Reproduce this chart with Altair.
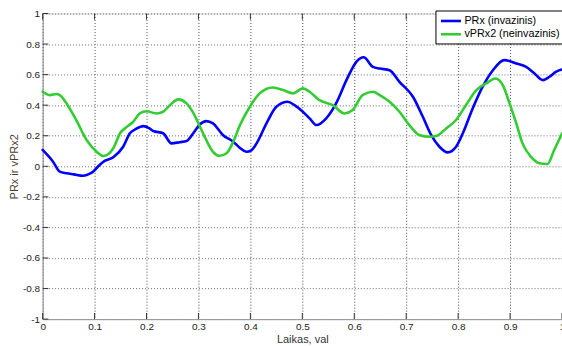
import altair as alt
import pandas as pd

# PRx (invasive) trace
prx_t = [0, 0.02, 0.033, 0.046, 0.06, 0.078, 0.09, 0.097, 0.107, 0.117, 0.136, 0.155,
         0.168, 0.18, 0.194, 0.205, 0.213, 0.232, 0.248, 0.264, 0.277, 0.29, 0.303,
         0.315, 0.328, 0.347, 0.367, 0.38, 0.392, 0.402, 0.412, 0.431, 0.45, 0.472,
         0.485, 0.501, 0.515, 0.527, 0.546, 0.565, 0.585, 0.604, 0.618, 0.636, 0.649,
         0.668, 0.687, 0.713, 0.732, 0.748, 0.764, 0.78, 0.796, 0.809, 0.828, 0.847,
         0.867, 0.889, 0.912, 0.931, 0.947, 0.963, 0.976, 0.988, 1.0]
prx_v = [0.107, 0.03, -0.035, -0.046, -0.053, -0.062, -0.05, -0.035, 0.0, 0.03, 0.059,
         0.128, 0.216, 0.245, 0.263, 0.25, 0.231, 0.216, 0.15, 0.158, 0.165, 0.216,
         0.275, 0.296, 0.281, 0.205, 0.161, 0.12, 0.095, 0.105, 0.15, 0.281, 0.39,
         0.422, 0.4, 0.357, 0.31, 0.27, 0.314, 0.412, 0.564, 0.684, 0.714, 0.651, 0.64,
         0.629, 0.553, 0.455, 0.324, 0.205, 0.128, 0.091, 0.128, 0.216, 0.379, 0.52,
         0.629, 0.695, 0.673, 0.651, 0.608, 0.564, 0.586, 0.618, 0.634]

# vPRx2 (non-invasive) trace
vprx2_t = [0, 0.014, 0.027, 0.033, 0.05, 0.065, 0.085, 0.104, 0.117, 0.136, 0.149, 0.162,
           0.174, 0.187, 0.2, 0.219, 0.232, 0.245, 0.261, 0.277, 0.29, 0.303, 0.315,
           0.328, 0.341, 0.354, 0.367, 0.38, 0.399, 0.418, 0.443, 0.463, 0.482, 0.501,
           0.514, 0.533, 0.559, 0.581, 0.597, 0.616, 0.636, 0.649, 0.668, 0.687, 0.706,
           0.725, 0.745, 0.758, 0.777, 0.796, 0.815, 0.835, 0.854, 0.872, 0.886, 0.899,
           0.912, 0.924, 0.94, 0.956, 0.972, 0.985, 1.0]
vprx2_v = [0.488, 0.466, 0.473, 0.466, 0.39, 0.30, 0.17, 0.095, 0.067, 0.118, 0.216,
           0.258, 0.29, 0.346, 0.36, 0.346, 0.357, 0.40, 0.438, 0.412, 0.35, 0.259,
           0.172, 0.095, 0.069, 0.085, 0.161, 0.27, 0.39, 0.477, 0.516, 0.499, 0.477,
           0.51, 0.488, 0.433, 0.40, 0.346, 0.368, 0.466, 0.488, 0.466, 0.422, 0.357,
           0.27, 0.205, 0.193, 0.198, 0.248, 0.303, 0.40, 0.499, 0.542, 0.575, 0.531,
           0.412, 0.281, 0.15, 0.063, 0.02, 0.015, 0.107, 0.215]

series_names = ["PRx (invazinis)", "vPRx2 (neinvazinis)"]
series_colors = ["#0000ff", "#33cc33"]

x_ticks = [0, 0.1, 0.2, 0.3, 0.4, 0.5, 0.6, 0.7, 0.8, 0.9, 1]
y_ticks = [-1, -0.8, -0.6, -0.4, -0.2, 0, 0.2, 0.4, 0.6, 0.8, 1]

FONT = "Liberation Sans"

df = pd.concat([
    pd.DataFrame({"t": prx_t, "v": prx_v, "series": series_names[0]}),
    pd.DataFrame({"t": vprx2_t, "v": vprx2_v, "series": series_names[1]}),
], ignore_index=True)

x_scale = alt.Scale(domain=[0, 1], nice=False, zero=False)
y_scale = alt.Scale(domain=[-1, 1], nice=False, zero=False)

x_axis = alt.Axis(
    values=x_ticks, title="Laikas, val", labelExpr="'' + datum.value",
    grid=True, gridColor="#4a4a4a", gridDash=[1, 2], gridWidth=1,
    ticks=False, domainColor="#999999", labelColor="#222222",
    labelFont=FONT, labelFontSize=10, labelBaseline="alphabetic", labelPadding=10.7,
    labelFlush=False, labelOverlap=False,
    titleFont=FONT, titleFontSize=11, titleFontWeight="normal", titleColor="#333333",
    titleBaseline="alphabetic", titleY=23.2, titleX=260,
)
y_axis = alt.Axis(
    values=y_ticks, title="PRx ir vPRx2", labelExpr="'' + datum.value",
    grid=True, gridColor="#6a6a6a", gridDash=[1, 2], gridWidth=1,
    ticks=False, domainColor="#999999", labelColor="#222222",
    labelFont=FONT, labelFontSize=10, labelPadding=3, labelFlush=False,
    labelOverlap=False,
    titleFont=FONT, titleFontSize=11, titleFontWeight="normal", titleColor="#4a3a30",
    titleAngle=-90, titleAlign="center", titleBaseline="alphabetic",
    titleX=-25, titleY=153,
)

lines = alt.Chart(df).mark_line(
    strokeWidth=2.6, interpolate="monotone", strokeJoin="round", strokeCap="round"
).encode(
    x=alt.X("t:Q", scale=x_scale, axis=x_axis),
    y=alt.Y("v:Q", scale=y_scale, axis=y_axis),
    color=alt.Color(
        "series:N",
        scale=alt.Scale(domain=series_names, range=series_colors),
        legend=alt.Legend(
            title=None, orient="none", legendX=393.3, legendY=-3,
            direction="vertical", symbolType="M-1,0H3", symbolSize=100,
            symbolStrokeWidth=2.6, labelFont=FONT, labelFontSize=10.8,
            labelColor="#000000", labelOffset=12, labelLimit=0,
            padding=4, rowPadding=1.3, strokeColor="#000000", fillColor="#ffffff",
            cornerRadius=0,
        ),
    ),
)

# inward tick marks on the box edges (same axes as the lines so they merge cleanly)
xt_bottom = pd.DataFrame({"t": x_ticks, "v": -1.0, "v2": -0.96})
xt_top = pd.DataFrame({"t": x_ticks, "v": 1.0, "v2": 0.96})
yt_left = pd.DataFrame({"v": y_ticks, "t": 0.0, "t2": 0.011})

tick_style = dict(color="#333333", strokeWidth=1)
ticks_x = alt.Chart(pd.concat([xt_bottom, xt_top])).mark_rule(**tick_style).encode(
    x=alt.X("t:Q", scale=x_scale, axis=x_axis),
    y=alt.Y("v:Q", scale=y_scale, axis=y_axis),
    y2="v2:Q",
)
ticks_y = alt.Chart(yt_left).mark_rule(**tick_style).encode(
    y=alt.Y("v:Q", scale=y_scale, axis=y_axis),
    x=alt.X("t:Q", scale=x_scale, axis=x_axis),
    x2="t2:Q",
)

chart = alt.layer(lines, ticks_x, ticks_y).properties(
    width=520, height=306,
    autosize=alt.AutoSizeParams(type="none"),
    padding={"left": 42.7, "top": 13.3, "right": 0, "bottom": 26.7},
    background="#ffffff",
).configure_view(stroke="#d4d4d4", strokeWidth=1)

chart.save("out.html", embed_options={"renderer": "svg", "actions": False})
